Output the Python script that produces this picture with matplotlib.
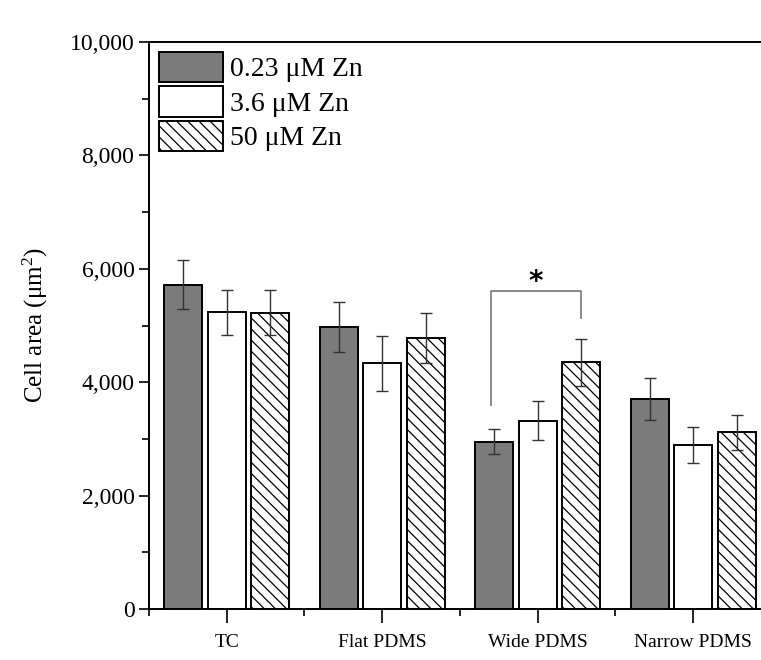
import numpy as np
import matplotlib
matplotlib.use('Agg')
import matplotlib.pyplot as plt
from matplotlib.ticker import FuncFormatter, MultipleLocator, FixedLocator

plt.rcParams['font.family'] = ['Liberation Serif', 'DejaVu Serif']
plt.rcParams['mathtext.default'] = 'regular'
plt.rcParams['hatch.linewidth'] = 0.9

groups = ['TC', 'Flat PDMS', 'Wide PDMS', 'Narrow PDMS']
series = ['0.23 μM Zn', '3.6 μM Zn', '50 μM Zn']
low_zn = [5720, 4970, 2950, 3710]
low_err = [430, 445, 225, 370]
mid_zn = [5230, 4330, 3320, 2900]
mid_err = [400, 490, 340, 317]
high_zn = [5225, 4775, 4350, 3115]
high_err = [395, 440, 410, 310]

fig = plt.figure(figsize=(7.61, 6.6), dpi=100)
ax = fig.add_axes([149 / 761, 51 / 660, 612 / 761, 567 / 660])

x = np.arange(len(groups))
width = 0.245
offset = 0.28
styles = [dict(color='#7b7b7b', hatch=None),
          dict(color='white', hatch=None),
          dict(color='white', hatch='\\\\\\')]
values = [low_zn, mid_zn, high_zn]
errors = [low_err, mid_err, high_err]

for i, (vals, errs, st) in enumerate(zip(values, errors, styles)):
    ax.bar(x + (i - 1) * offset, vals, width, color=st['color'], hatch=st['hatch'],
           edgecolor='black', linewidth=1.4, label=series[i], zorder=2)
    ax.errorbar(x + (i - 1) * offset, vals, yerr=errs, fmt='none', ecolor='#333333',
                elinewidth=1.0, capsize=4.3, capthick=1.0, zorder=3)

# significance bracket between Wide PDMS low and high Zn
x1 = x[2] - offset - 0.02
x2 = x[2] + offset
ax.plot([x1, x1, x2, x2], [3600, 5600, 5600, 5140], color='#777777', lw=1.2, zorder=3)
ax.text((x1 + x2) / 2, 5770, '*', ha='center', va='center', fontsize=20,
        fontweight='bold', family='DejaVu Sans')

ax.set_ylim(0, 10000)
ax.set_xlim(-0.5, 3.436)
ax.yaxis.set_major_locator(MultipleLocator(2000))
ax.yaxis.set_minor_locator(MultipleLocator(1000))
ax.yaxis.set_major_formatter(FuncFormatter(lambda v, p: f'{int(v):,}'))
ax.set_xticks(x)
ax.set_xticklabels(groups, fontsize=14)
ax.xaxis.set_minor_locator(FixedLocator([-0.5, 0.5, 1.5, 2.5]))
ax.tick_params(axis='y', which='major', direction='out', length=7, width=1.2, labelsize=17)
ax.tick_params(axis='y', which='minor', direction='out', length=5, width=1.2)
ax.tick_params(axis='x', which='major', direction='out', length=10, width=1.2, pad=8)
ax.tick_params(axis='x', which='minor', direction='out', length=5, width=1.2)
ax.spines['right'].set_visible(False)
for s in ['left', 'bottom', 'top']:
    ax.spines[s].set_linewidth(1.4)

ax.set_ylabel('Cell area (μm$^{2}$)', fontsize=18)
ax.yaxis.set_label_coords(-0.162, 0.5)

ax.legend(loc='upper left', bbox_to_anchor=(0.0, 1.0), frameon=False, fontsize=20,
          handlelength=2.3, handleheight=1.3, labelspacing=0.15, handletextpad=0.25,
          borderaxespad=0.0, borderpad=0.35)

fig.savefig('out.png', dpi=100)
